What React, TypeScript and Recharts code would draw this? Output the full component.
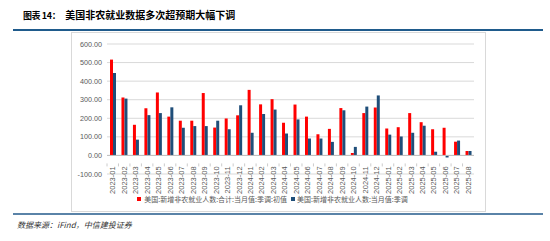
import React from 'react';
import {
  BarChart,
  Bar,
  XAxis,
  YAxis,
  CartesianGrid,
  Legend,
  ReferenceLine
} from 'recharts';

const months = [
  '2023-01', '2023-02', '2023-03', '2023-04', '2023-05', '2023-06', '2023-07', '2023-08',
  '2023-09', '2023-10', '2023-11', '2023-12', '2024-01', '2024-02', '2024-03', '2024-04',
  '2024-05', '2024-06', '2024-07', '2024-08', '2024-09', '2024-10', '2024-11', '2024-12',
  '2025-01', '2025-02', '2025-03', '2025-04', '2025-05', '2025-06', '2025-07', '2025-08'
];

// 初值
const initialValues = [
  516, 312, 165, 254, 339, 209, 187, 187, 336, 150, 199, 216, 353, 275, 303, 176,
  274, 209, 114, 143, 255, 13, 228, 258, 145, 152, 228, 179, 141, 149, 74, 24
];

// 季调（修正后）
const revisedValues = [
  444, 306, 85, 217, 228, 259, 149, 158, 158, 187, 141, 270, 122, 223, 247, 118,
  194, 91, 91, 73, 243, 46, 263, 323, 112, 102, 122, 160, 20, -11, 80, 24
];

const yTicks = [-100, 0, 100, 200, 300, 400, 500, 600];

const seriesNames = [
  '美国:新增非农就业人数:合计:当月值:季调:初值',
  '美国:新增非农就业人数:当月值:季调'
];

const RED = '#ff0000';
const BLUE = '#1f4e79';

const CHART_W = 415;
const CHART_H = 180;
const M_TOP = 12;
const X_AXIS_H = 18;
const LEGEND_H = 14;
const M_BOTTOM = 6;
const PLOT_H = CHART_H - M_TOP - X_AXIS_H - LEGEND_H - M_BOTTOM;
const ZERO_FROM_BOTTOM = PLOT_H * (100 / 700);

const data = months.map((m, i) => ({
  month: m,
  initial: initialValues[i],
  revised: revisedValues[i]
}));

const MonthTick = (props: any) => {
  const { x, y, payload } = props;
  const zeroY = y - ZERO_FROM_BOTTOM;
  const bw = 367 / months.length;
  return (
    <g>
      <line x1={x - bw / 2} y1={zeroY} x2={x - bw / 2} y2={zeroY + 3} stroke="#bfbfbf" strokeWidth={0.8} />
      <text
        x={x}
        y={zeroY + 3}
        transform={`rotate(-90, ${x}, ${zeroY + 3})`}
        textAnchor="end"
        dy="0.35em"
        fontSize={7.5}
        fill="#595959"
        fontFamily="'Liberation Sans', Arial, sans-serif"
      >
        {payload.value}
      </text>
    </g>
  );
};

const LegendContent = () => (
  <div
    style={{
      display: 'flex',
      justifyContent: 'center',
      alignItems: 'center',
      fontFamily: "'Noto Sans CJK SC', sans-serif",
      fontSize: 7,
      color: '#595959',
      lineHeight: '14px',
      whiteSpace: 'nowrap'
    }}
  >
    <span style={{ width: 4, height: 4, background: RED, display: 'inline-block', marginRight: 3 }} />
    <span style={{ marginRight: 4 }}>{seriesNames[0]}</span>
    <span style={{ width: 4, height: 4, background: BLUE, display: 'inline-block', marginRight: 2 }} />
    <span>{seriesNames[1]}</span>
  </div>
);

const App: React.FC = () => {
  return (
    <div style={{ position: 'absolute', left: 0, top: 0, width: 550, height: 241, background: '#fff' }}>
      <div
        style={{
          position: 'absolute',
          left: 23,
          top: 8,
          fontFamily: "'Noto Sans CJK SC', sans-serif",
          fontWeight: 700,
          fontSize: 10,
          color: '#000',
          whiteSpace: 'nowrap',
          lineHeight: '14px'
        }}
      >
        <span style={{ fontSize: 9, letterSpacing: -0.4 }}>图表 14：</span>
        <span style={{ marginLeft: 5 }}>美国非农就业数据多次超预期大幅下调</span>
      </div>
      <div style={{ position: 'absolute', left: 13, top: 29, width: 530, height: 2, background: '#1f5b8c' }} />

      <div
        style={{
          position: 'absolute',
          left: 71,
          top: 32,
          width: CHART_W,
          height: CHART_H,
          boxSizing: 'border-box',
          border: '1px solid #d9d9d9'
        }}
      />
      <div style={{ position: 'absolute', left: 71, top: 32 }}>
        <BarChart
          width={CHART_W}
          height={CHART_H}
          data={data}
          margin={{ top: M_TOP, right: 12, left: 0, bottom: M_BOTTOM }}
          barGap={0}
        >
          <CartesianGrid vertical={false} stroke="#d9d9d9" />
          <XAxis
            dataKey="month"
            height={X_AXIS_H}
            axisLine={false}
            tickLine={false}
            interval={0}
            tick={<MonthTick />}
          />
          <YAxis
            width={36}
            domain={[-100, 600]}
            ticks={yTicks}
            axisLine={false}
            tickLine={false}
            tickSize={3}
            tickMargin={2}
            tickFormatter={(v: number) => v.toFixed(2)}
            tick={{ fontSize: 7.2, fill: '#595959', fontFamily: "'Liberation Sans', Arial, sans-serif" }}
            interval={0}
          />
          <ReferenceLine y={0} stroke="#bfbfbf" />
          <Legend verticalAlign="bottom" height={LEGEND_H} content={<LegendContent />} />
          <Bar dataKey="initial" name={seriesNames[0]} fill={RED} barSize={3} isAnimationActive={false} />
          <Bar dataKey="revised" name={seriesNames[1]} fill={BLUE} barSize={3} isAnimationActive={false} />
        </BarChart>
      </div>

      <div style={{ position: 'absolute', left: 13, top: 213, width: 530, height: 2, background: '#5a83a8' }} />
      <div
        style={{
          position: 'absolute',
          left: 17,
          top: 219,
          fontFamily: "'Noto Sans CJK SC', sans-serif",
          fontStyle: 'italic',
          fontSize: 8,
          color: '#333',
          whiteSpace: 'nowrap',
          lineHeight: '12px'
        }}
      >
        数据来源：iFind，中信建投证券
      </div>
    </div>
  );
};

export default App;
